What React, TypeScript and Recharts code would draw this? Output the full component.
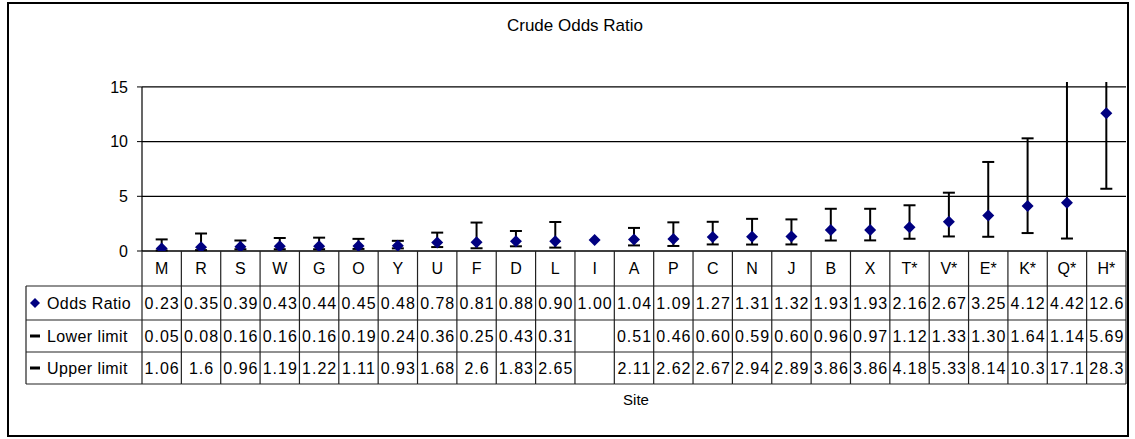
import React from 'react';
import { ComposedChart, Line, XAxis, YAxis, CartesianGrid, ErrorBar } from 'recharts';

const sites = ['M', 'R', 'S', 'W', 'G', 'O', 'Y', 'U', 'F', 'D', 'L', 'I', 'A', 'P', 'C', 'N', 'J', 'B', 'X', 'T*', 'V*', 'E*', 'K*', 'Q*', 'H*'];
const oddsRatio = [0.23, 0.35, 0.39, 0.43, 0.44, 0.45, 0.48, 0.78, 0.81, 0.88, 0.9, 1.0, 1.04, 1.09, 1.27, 1.31, 1.32, 1.93, 1.93, 2.16, 2.67, 3.25, 4.12, 4.42, 12.6];
const lowerLimit: (number | null)[] = [0.05, 0.08, 0.16, 0.16, 0.16, 0.19, 0.24, 0.36, 0.25, 0.43, 0.31, null, 0.51, 0.46, 0.6, 0.59, 0.6, 0.96, 0.97, 1.12, 1.33, 1.3, 1.64, 1.14, 5.69];
const upperLimit: (number | null)[] = [1.06, 1.6, 0.96, 1.19, 1.22, 1.11, 0.93, 1.68, 2.6, 1.83, 2.65, null, 2.11, 2.62, 2.67, 2.94, 2.89, 3.86, 3.86, 4.18, 5.33, 8.14, 10.3, 17.1, 28.3];
const yTicks = [0, 5, 10, 15];
const seriesNames = ['Odds Ratio', 'Lower limit', 'Upper limit'];
const chartTitle = 'Crude Odds Ratio';
const axisTitle = 'Site';

const W = 1135;
const H = 439;
const PLOT_LEFT = 142;
const PLOT_RIGHT = 1126;
const PLOT_TOP = 82;
const AXIS_Y = 251;
const Y_MAX = 15.45;
const Y_TOP_TICK = AXIS_Y - ((AXIS_Y - PLOT_TOP) * yTicks[yTicks.length - 1]) / Y_MAX;
const HALF = (PLOT_RIGHT - PLOT_LEFT) / sites.length / 2;
const ROWS = [0, 35, 69, 101, 133];
const LEGEND_LEFT = 26;
const FONT = '"Liberation Sans", Arial, sans-serif';
const NAVY = '#000080';
const LINE = '#222';

const data = sites.map((s, i) => ({
  site: s,
  or: oddsRatio[i],
  err:
    lowerLimit[i] == null || upperLimit[i] == null
      ? null
      : [oddsRatio[i] - (lowerLimit[i] as number), (upperLimit[i] as number) - oddsRatio[i]],
}));

const fmtOR = (v: number) => (v >= 10 ? v.toFixed(1) : v.toFixed(2));
const fmtLow = (v: number | null) => (v == null ? '' : v.toFixed(2));
const fmtUp = (v: number | null) => (v == null ? '' : String(v));

const Diamond = (props: any) => {
  const { cx, cy, index } = props;
  if (cx == null || cy == null) return <g key={index} />;
  const r = 6;
  return (
    <polygon
      key={index}
      points={`${cx},${cy - r} ${cx + r},${cy} ${cx},${cy + r} ${cx - r},${cy}`}
      fill={NAVY}
      stroke="none"
    />
  );
};

const txt = {
  fontFamily: FONT,
  fontSize: 16,
  fill: '#000',
  letterSpacing: 1,
};

const TableTick = (props: any) => {
  const { x, y, payload, index } = props;
  const i = index;
  const left = x - HALF;
  const right = x + HALF;
  const mids = [17.5, 52, 85, 117];
  const vals = [fmtOR(oddsRatio[i]), fmtLow(lowerLimit[i]), fmtUp(upperLimit[i])];
  return (
    <g>
      <line x1={left} y1={y} x2={left} y2={y + ROWS[4]} stroke={LINE} strokeWidth={1.2} />
      {i === sites.length - 1 && (
        <line x1={right} y1={y} x2={right} y2={y + ROWS[4]} stroke={LINE} strokeWidth={1.2} />
      )}
      {ROWS.slice(1).map((r) => (
        <line key={r} x1={left} y1={y + r} x2={right} y2={y + r} stroke={LINE} strokeWidth={1.2} />
      ))}
      <text x={x} y={mids[0] + y} textAnchor="middle" dominantBaseline="central" style={{ ...txt, letterSpacing: 0 }}>
        {payload.value}
      </text>
      {vals.map((v, k) => (
        <text key={k} x={x + 0.5} y={mids[k + 1] + y} textAnchor="middle" dominantBaseline="central" style={txt}>
          {v}
        </text>
      ))}
      {i === 0 && (
        <g>
          <line x1={LEGEND_LEFT} y1={y + ROWS[1]} x2={LEGEND_LEFT} y2={y + ROWS[4]} stroke={LINE} strokeWidth={1.2} />
          {ROWS.slice(1).map((r) => (
            <line key={'l' + r} x1={LEGEND_LEFT} y1={y + r} x2={left} y2={y + r} stroke={LINE} strokeWidth={1.2} />
          ))}
          <polygon
            points={`35,${y + mids[1] - 5} 40,${y + mids[1]} 35,${y + mids[1] + 5} 30,${y + mids[1]}`}
            fill={NAVY}
          />
          <line x1={30} y1={y + mids[2]} x2={40} y2={y + mids[2]} stroke="#000" strokeWidth={3} />
          <line x1={30} y1={y + mids[3]} x2={40} y2={y + mids[3]} stroke="#000" strokeWidth={3} />
          {seriesNames.map((n, k) => (
            <text key={n} x={47} y={y + mids[k + 1]} dominantBaseline="central" style={{ ...txt, letterSpacing: 0.4 }}>
              {n}
            </text>
          ))}
        </g>
      )}
    </g>
  );
};

export default function App() {
  return (
    <div style={{ position: 'absolute', left: 0, top: 0, width: W, height: H, background: '#fff' }}>
      <style>{`.recharts-errorBars, .recharts-errorBar { clip-path: url(#ebClip); }
.recharts-yAxis .recharts-cartesian-axis-line { clip-path: url(#yAxisClip); }`}</style>
      <svg width={0} height={0} style={{ position: 'absolute' }}>
        <defs>
          <clipPath id="ebClip" clipPathUnits="userSpaceOnUse">
            <rect x={0} y={PLOT_TOP} width={W} height={H - PLOT_TOP} />
          </clipPath>
          <clipPath id="yAxisClip" clipPathUnits="userSpaceOnUse">
            <rect x={0} y={Y_TOP_TICK} width={W} height={H - Y_TOP_TICK} />
          </clipPath>
        </defs>
      </svg>
      <div
        style={{
          position: 'absolute',
          left: 7,
          top: 2,
          width: 1122,
          height: 435,
          boxSizing: 'border-box',
          border: '2px solid #000',
        }}
      />
      <div style={{ position: 'absolute', left: 0, top: 0 }}>
        <ComposedChart
          width={W}
          height={H}
          data={data}
          margin={{ top: PLOT_TOP, right: W - PLOT_RIGHT, left: 0, bottom: 0 }}
        >
          <CartesianGrid vertical={false} horizontalValues={yTicks} stroke="#000" strokeWidth={1.2} />
          <XAxis
            dataKey="site"
            scale="band"
            interval={0}
            tickLine={false}
            tickSize={0}
            tickMargin={0}
            height={H - AXIS_Y}
            axisLine={{ stroke: '#000', strokeWidth: 1.2 }}
            tick={<TableTick />}
          />
          <YAxis
            width={PLOT_LEFT}
            domain={[0, Y_MAX]}
            ticks={yTicks}
            allowDataOverflow
            tickSize={5}
            tickMargin={9}
            axisLine={{ stroke: '#000', strokeWidth: 1.2 }}
            tickLine={{ stroke: '#000' }}
            tick={{ fill: '#000', fontSize: 16, fontFamily: FONT }}
          />
          <Line
            dataKey="or"
            stroke="none"
            isAnimationActive={false}
            dot={<Diamond />}
            activeDot={false}
          >
            <ErrorBar dataKey="err" direction="y" width={6} strokeWidth={2} stroke="#000" />
          </Line>
        </ComposedChart>
      </div>
      <div
        style={{
          position: 'absolute',
          left: 375,
          width: 400,
          top: 16,
          lineHeight: '20px',
          textAlign: 'center',
          fontFamily: FONT,
          fontSize: 17,
          color: '#000',
        }}
      >
        {chartTitle}
      </div>
      <div
        style={{
          position: 'absolute',
          left: 536,
          width: 200,
          top: 390,
          lineHeight: '20px',
          textAlign: 'center',
          fontFamily: FONT,
          fontSize: 15,
          color: '#000',
        }}
      >
        {axisTitle}
      </div>
    </div>
  );
}
